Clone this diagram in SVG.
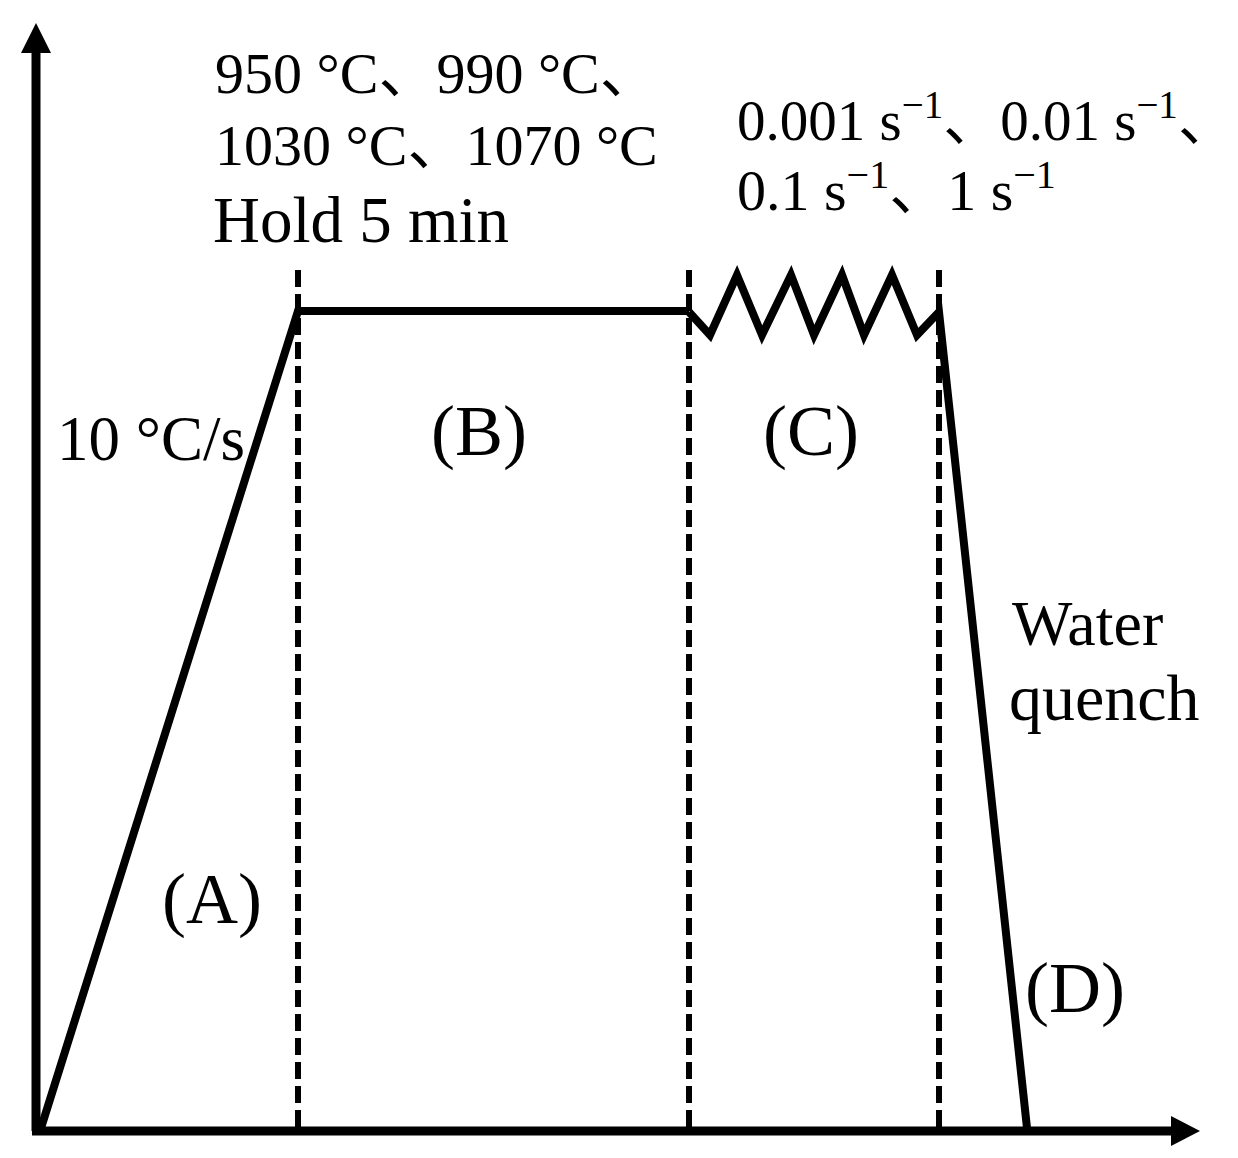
<svg xmlns="http://www.w3.org/2000/svg" width="1238" height="1158" viewBox="0 0 1238 1158">
<style>
.t{font-family:"Liberation Serif","Noto Sans CJK SC",serif;fill:#000}
.ln{stroke:#000;stroke-width:8;fill:none;stroke-linejoin:miter}
.ax{stroke:#000;stroke-width:9;fill:none}
.dash{stroke:#000;stroke-width:6;stroke-dasharray:17 7;fill:none}
</style>
<rect width="1238" height="1158" fill="#fff"/>
<g id="axes">
<line class="ax" x1="36" y1="1131" x2="36" y2="48"/>
<polygon points="36,23 21,53 51,53" fill="#000"/>
<line class="ax" x1="32" y1="1131" x2="1176" y2="1131"/>
<polygon points="1200,1131 1171,1116 1171,1146" fill="#000"/>
</g>
<g id="dashed-lines">
<line class="dash" x1="298" y1="270" x2="298" y2="1127"/>
<line class="dash" x1="689" y1="270" x2="689" y2="1127"/>
<line class="dash" x1="939" y1="270" x2="939" y2="1127"/>
</g>
<g id="connectors">
<polyline class="ln" points="41,1128 298,311 689,311"/>
<polyline class="ln" points="689,312 710,335 737,275 762,335 791,275 814,335 842,275 864,335 892,275 917,335 939,312 1027,1128"/>
</g>
<g id="label-temps">
<text class="t" x="215" y="93" font-size="58">950 °C、990 °C、</text>
<text class="t" x="215" y="165" font-size="58">1030 °C、1070 °C</text>
<text class="t" x="213" y="242" font-size="65">Hold 5 min</text>
</g>
<g id="label-rates">
<text class="t" x="737" y="140" font-size="57">0.001 s<tspan font-size="39" dy="-22">−1</tspan><tspan dy="22">、0.01 s</tspan><tspan font-size="39" dy="-22">−1</tspan><tspan dy="22">、</tspan></text>
<text class="t" x="737" y="210" font-size="58">0.1 s<tspan font-size="40" dy="-22">−1</tspan><tspan dy="22">、1 s</tspan><tspan font-size="40" dy="-22">−1</tspan></text>
</g>
<g id="label-rate"><text class="t" x="57" y="460" font-size="63">10 °C/s</text></g>
<g id="label-A"><text class="t" x="162" y="923" font-size="72">(A)</text></g>
<g id="label-B"><text class="t" x="431" y="455" font-size="72">(B)</text></g>
<g id="label-C"><text class="t" x="763" y="455" font-size="72">(C)</text></g>
<g id="label-D"><text class="t" x="1025" y="1012" font-size="72">(D)</text></g>
<g id="label-quench">
<text class="t" x="1012" y="645" font-size="64">Water</text>
<text class="t" x="1009" y="720" font-size="66">quench</text>
</g>
</svg>
